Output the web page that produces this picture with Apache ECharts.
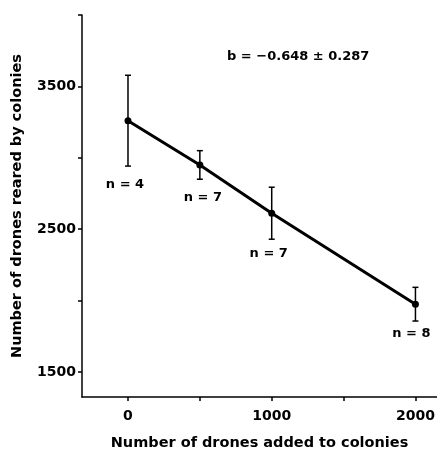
<!DOCTYPE html>
<html><head><meta charset="utf-8">
<script src="https://cdn.jsdelivr.net/npm/echarts@6/dist/echarts.min.js"></script>
<style>html,body{margin:0;padding:0;background:#fff}#c{width:437px;height:450px}</style>
</head><body><div id="c"></div>
<script>
const dronesAdded = [0, 500, 1000, 2000];
const dronesReared = [3260, 2950, 2612, 1975];
const errorSE = [318, 100, 182, 118];
const sampleN = [4, 7, 7, 8];
const slopeText = 'b = −0.648 ± 0.287';
const xTickValues = [0, 500, 1000, 1500, 2000];
const xLabelValues = [0, 1000, 2000];
const yTickValues = [1500, 2000, 2500, 3000, 3500, 4000];
const yLabelValues = [1500, 2500, 3500];

const FONT = 'DejaVu Sans';
const chart = echarts.init(document.getElementById('c'), null, {renderer: 'canvas'});
const errData = dronesAdded.map((x, i) => [x, dronesReared[i] - errorSE[i], dronesReared[i] + errorSE[i], sampleN[i]]);
const labelDx = [-3, 3, -3, -4];
const labelDy = [19, 18, 14, 13];
chart.setOption({
  animation: false,
  grid: {left: 82, right: 0, top: 15, bottom: 53, containLabel: false, outerBoundsMode: 'none'},
  xAxis: {
    type: 'value', min: -320, max: 2150,
    splitLine: {show: false},
    axisLine: {onZero: false, lineStyle: {color: '#000', width: 1.5}},
    axisTick: {show: true, inside: false, length: 4, lineStyle: {color: '#000', width: 1.5}, customValues: xTickValues},
    axisLabel: {customValues: xLabelValues, formatter: v => String(v), color: '#000', fontFamily: FONT, fontSize: 14, fontWeight: 'bold', margin: 12},
    name: 'Number of drones added to colonies', nameLocation: 'middle', nameGap: 39,
    nameTextStyle: {color: '#000', fontFamily: FONT, fontSize: 14.5, fontWeight: 'bold'}
  },
  yAxis: {
    type: 'value', min: 1325, max: 4000,
    splitLine: {show: false},
    axisLine: {onZero: false, lineStyle: {color: '#000', width: 1.5}},
    axisTick: {show: true, inside: false, length: 4, lineStyle: {color: '#000', width: 1.5}, customValues: yTickValues},
    axisLabel: {customValues: yLabelValues, formatter: v => String(v), color: '#000', fontFamily: FONT, fontSize: 14, fontWeight: 'bold', margin: 6},
    name: 'Number of drones reared by colonies', nameLocation: 'middle', nameGap: 57, nameRotate: 90,
    nameTextStyle: {color: '#000', fontFamily: FONT, fontSize: 14.5, fontWeight: 'bold'}
  },
  graphic: [{
    type: 'text', left: 227, top: 50,
    style: {text: slopeText, fill: '#000', font: 'bold 13px ' + FONT}
  }],
  series: [
    {
      type: 'line', data: dronesAdded.map((x, i) => [x, dronesReared[i]]),
      symbol: 'circle', symbolSize: 7,
      lineStyle: {color: '#000', width: 3},
      itemStyle: {color: '#000'}, z: 3
    },
    {
      type: 'custom', data: errData, z: 2,
      renderItem: function (params, api) {
        const x = api.value(0);
        const lo = api.coord([x, api.value(1)]);
        const hi = api.coord([x, api.value(2)]);
        const cap = 3;
        const st = {stroke: '#000', lineWidth: 1.5};
        const i = params.dataIndex;
        return {type: 'group', children: [
          {type: 'line', shape: {x1: lo[0], y1: lo[1], x2: hi[0], y2: hi[1]}, style: st},
          {type: 'line', shape: {x1: lo[0] - cap, y1: lo[1], x2: lo[0] + cap, y2: lo[1]}, style: st},
          {type: 'line', shape: {x1: hi[0] - cap, y1: hi[1], x2: hi[0] + cap, y2: hi[1]}, style: st},
          {type: 'text', x: lo[0] + labelDx[i], y: lo[1] + labelDy[i],
           style: {text: 'n = ' + api.value(3), fill: '#000', font: 'bold 13px ' + FONT, align: 'center', verticalAlign: 'middle'}}
        ]};
      }
    }
  ]
});
</script></body></html>
